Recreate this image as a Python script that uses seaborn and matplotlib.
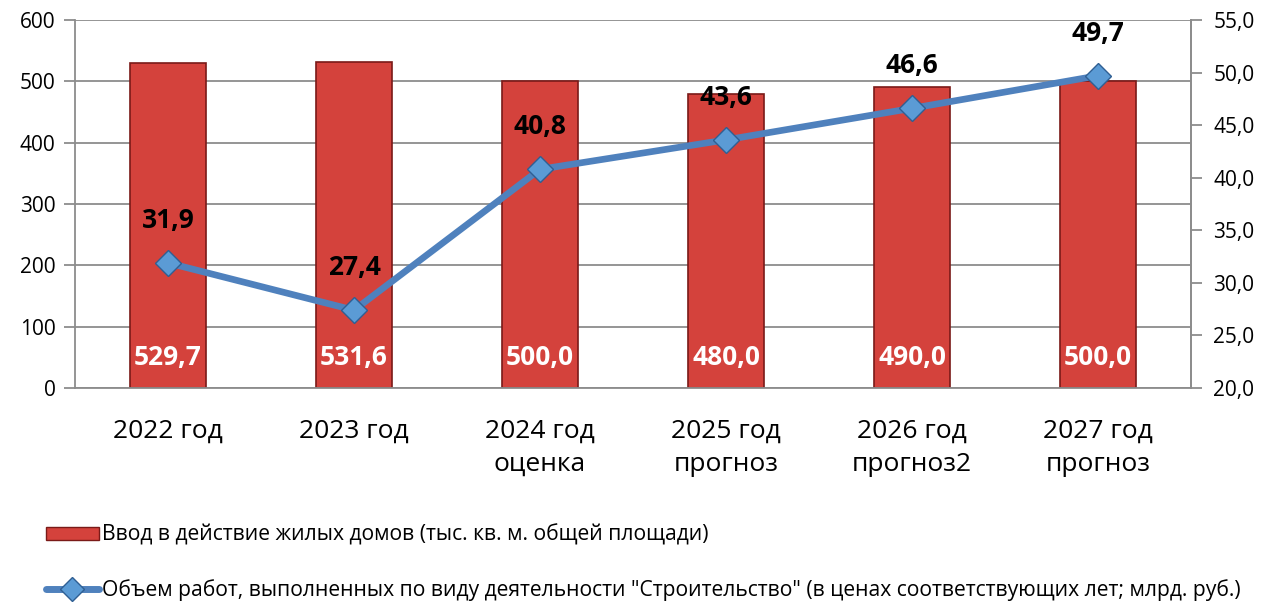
import numpy as np
import pandas as pd
import seaborn as sns
import matplotlib.pyplot as plt
from matplotlib.lines import Line2D
from matplotlib.patches import Patch
from matplotlib.ticker import FuncFormatter, FixedLocator

categories = ["2022 год", "2023 год", "2024 год\nоценка", "2025 год\nпрогноз",
              "2026 год\nпрогноз2", "2027 год\nпрогноз"]
housing = [529.7, 531.6, 500.0, 480.0, 490.0, 500.0]
construction = [31.9, 27.4, 40.8, 43.6, 46.6, 49.7]
bar_name = "Ввод в действие жилых домов (тыс. кв. м. общей площади)"
line_name = ('Объем работ, выполненных по виду деятельности "Строительство" '
             '(в ценах соответствующих лет; млрд. руб.)')

sns.set_style("white")
plt.rcParams['font.family'] = ['Open Sans', 'DejaVu Sans']
plt.rcParams['text.color'] = 'black'
plt.rcParams['xtick.color'] = 'black'
plt.rcParams['ytick.color'] = 'black'

def comma(v, dec=1):
    return f"{v:.{dec}f}".replace(".", ",")

df = pd.DataFrame({"cat": categories, "housing": housing, "construction": construction})

fig = plt.figure(figsize=(12.84, 6.03), dpi=100)
ax = fig.add_axes([0.0584, 0.3566, 0.8692, 0.6102])

sns.barplot(data=df, x="cat", y="housing", ax=ax, color="#d4423c",
            width=0.41, edgecolor="#7a1a18", linewidth=1.2, saturation=1)
ax.set_ylim(0, 600)
ax.set_yticks(range(0, 601, 100))
ax.set_xlim(-0.5, 5.5)
ax.set_xlabel("")
ax.set_ylabel("")
ax.grid(axis="y", color="#8c8c8c", linewidth=1.3)
ax.set_axisbelow(True)
ax.spines["top"].set_visible(False)
for s in ["left", "bottom", "right"]:
    ax.spines[s].set_color("#8c8c8c")
    ax.spines[s].set_linewidth(1.3)
ax.tick_params(axis="y", labelsize=15, length=8, color="#8c8c8c", width=1.3, pad=6)
ax.tick_params(axis="x", labelsize=19, length=0, pad=22)
for lbl in ax.get_xticklabels():
    lbl.set_linespacing(1.45)
ax.xaxis.set_minor_locator(FixedLocator(np.arange(-0.5, 6, 1)))
ax.tick_params(axis="x", which="minor", length=8, color="#8c8c8c", width=1.3)

for i, v in enumerate(housing):
    ax.text(i, 50, comma(v), ha="center", va="center", color="white",
            fontsize=19, fontweight="bold")

ax2 = ax.twinx()
sns.lineplot(x=np.arange(len(construction)), y=construction, ax=ax2,
             color="#4f81bd", linewidth=4.8, marker="D", markersize=13,
             markerfacecolor="#5b9bd5", markeredgecolor="#2f5f93",
             markeredgewidth=1)
ax2.set_ylim(20, 55)
ax2.set_yticks(np.arange(20, 56, 5))
ax2.yaxis.set_major_formatter(FuncFormatter(lambda v, p: comma(v)))
ax2.tick_params(axis="y", labelsize=15, length=8, color="#8c8c8c", width=1.3, pad=8)
ax2.set_ylabel("")
for s in ["top", "left", "bottom"]:
    ax2.spines[s].set_visible(False)
ax2.spines["right"].set_color("#8c8c8c")
ax2.spines["right"].set_linewidth(1.3)

for i, v in enumerate(construction):
    ax2.annotate(comma(v), (i, v), xytext=(0, 21), textcoords="offset points",
                 ha="center", va="bottom", fontsize=19, fontweight="bold",
                 color="black")

handles = [Patch(facecolor="#d4423c", edgecolor="#7a1a18"),
           Line2D([], [], color="#4f81bd", linewidth=5, marker="D",
                  markersize=12, markerfacecolor="#5b9bd5",
                  markeredgecolor="#2f5f93")]
fig.legend(handles, [bar_name, line_name], loc="upper left",
           bbox_to_anchor=(0.021, 0.162), frameon=False, fontsize=15.2,
           handlelength=2.5, handleheight=0.6, handletextpad=0.15,
           labelspacing=1.6)

fig.savefig("out.png", dpi=100)
